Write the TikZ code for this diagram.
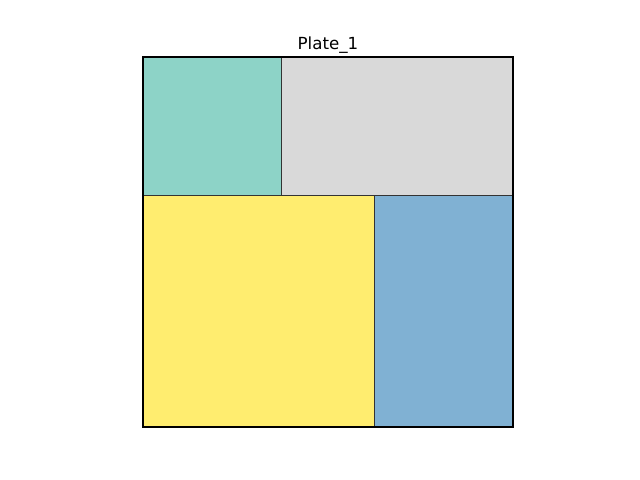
\documentclass[tikz,border=0pt]{standalone}
\usepackage{fontspec}
\setmainfont{DejaVu Sans}
\definecolor{set3-teal}{HTML}{8DD3C7}
\definecolor{set3-grey}{HTML}{D9D9D9}
\definecolor{set3-yellow}{HTML}{FFED6F}
\definecolor{set3-blue}{HTML}{80B1D3}
\definecolor{edge-grey}{HTML}{333333}
\usetikzlibrary{positioning}

\begin{document}
\begin{tikzpicture}[
    x=33.3pt, y=33.3pt,
    piece/.style={draw=edge-grey, line width=0.8pt},
    frame/.style={draw=black, line width=0.8pt}
]
\useasboundingbox (-3.092,-1.146) rectangle (10.746,9.232);

% Pecas
\fill[set3-teal]   (0,5) rectangle (3,8);
\fill[set3-grey]   (3,5) rectangle (8,8);
\fill[set3-yellow] (0,0) rectangle (5,5);
\fill[set3-blue]   (5,0) rectangle (8,5);
\draw[piece] (0,5) rectangle (3,8);
\draw[piece] (3,5) rectangle (8,8);
\draw[piece] (0,0) rectangle (5,5);
\draw[piece] (5,0) rectangle (8,5);

% Moldura
\draw[frame] (0,0) rectangle (8,8);

% Titulo
\node[anchor=base, font=\fontsize{12}{14}\selectfont, inner sep=0pt] (title) at (4,8.16) {Plate\_1};

\end{tikzpicture}
\end{document}
